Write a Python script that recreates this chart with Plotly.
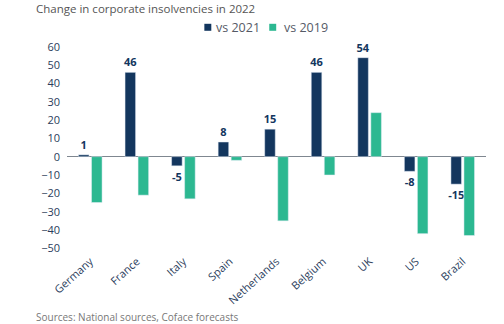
import plotly.graph_objects as go

# Change in corporate insolvencies in 2022 (%)
countries = ["Germany", "France", "Italy", "Spain", "Netherlands", "Belgium", "UK", "US", "Brazil"]
vs_2021 = [1, 46, -5, 8, 15, 46, 54, -8, -15]
vs_2019 = [-25, -21, -23, -2, -35, -10, 24, -42, -43]
y_ticks = [60, 50, 40, 30, 20, 10, 0, -10, -20, -30, -40, -50]

NAVY = "#13365e"
GREEN = "#2cb891"
TEXT = "#2b3d5c"
FONT = "Open Sans, Lato, sans-serif"

series = [("vs 2021", vs_2021, NAVY), ("vs 2019", vs_2019, GREEN)]

fig = go.Figure()
fig.add_trace(go.Bar(
    x=countries, y=vs_2021, name=series[0][0], marker_color=NAVY,
    text=[str(v) for v in vs_2021], textposition="outside",
    textfont=dict(family=FONT, size=11, color=NAVY, weight="bold"),
    constraintext="none", cliponaxis=False,
))
fig.add_trace(go.Bar(
    x=countries, y=vs_2019, name=series[1][0], marker_color=GREEN,
))

# Compact legend above the plot: small colour square followed by the series name
legend_items = []
legend_shapes = []
for (name, _, color), sq_x, txt_x in zip(series, [0.3361, 0.4910], [0.3504, 0.5125]):
    legend_shapes.append(dict(type="rect", xref="paper", yref="paper",
                              x0=sq_x - 0.0083, x1=sq_x + 0.0083, y0=1.0584, y1=1.0919,
                              fillcolor=color, line=dict(width=0)))
    legend_items.append(dict(text=name, xref="paper", yref="paper", x=txt_x, y=1.075,
                             xanchor="left", yanchor="middle", showarrow=False,
                             font=dict(size=12.5, color="#555a66")))

fig.update_layout(
    width=504, height=324,
    margin=dict(l=67, r=17.5, t=42.7, b=72.4),
    paper_bgcolor="white", plot_bgcolor="white",
    barmode="group", bargap=0.44, bargroupgap=0.19,
    font=dict(family=FONT, color=TEXT, size=11),
    showlegend=False,
    shapes=legend_shapes,
    annotations=legend_items + [
        dict(text="Change in corporate insolvencies in 2022", xref="paper", yref="paper",
             x=-0.0787, y=1.166, xanchor="left", yanchor="middle", showarrow=False,
             font=dict(size=11.5, color="#555555")),
        dict(text="Sources: National sources, Coface forecasts", xref="paper", yref="paper",
             x=-0.0787, y=-0.313, xanchor="left", yanchor="middle", showarrow=False,
             font=dict(size=10, color="#777777")),
    ],
)
fig.update_xaxes(tickangle=-42, showgrid=False, showline=False, ticks="",
                 tickfont=dict(size=11, color=TEXT))
fig.update_yaxes(range=[-52, 62], tickvals=y_ticks, showgrid=False, showline=False,
                 zeroline=True, zerolinecolor="#7f8790", zerolinewidth=1,
                 ticks="", ticklabelstandoff=6, tickfont=dict(size=11, color=TEXT))

fig.write_html("out.html")
